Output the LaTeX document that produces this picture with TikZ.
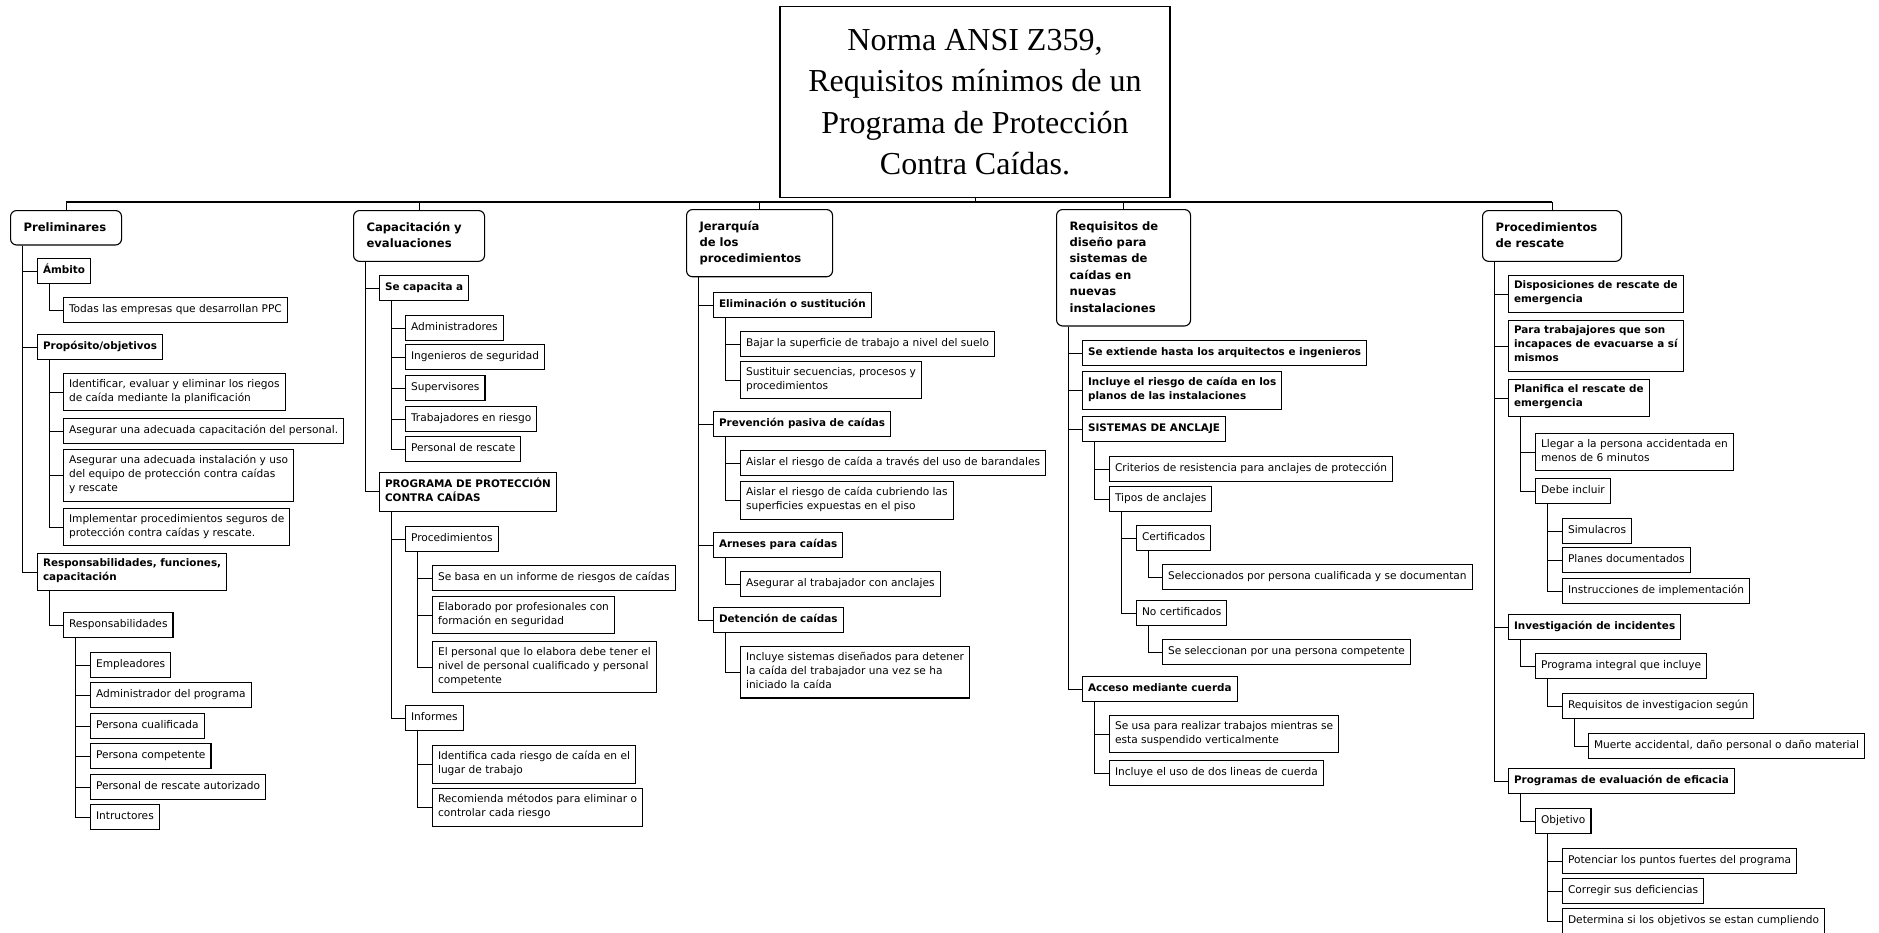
\documentclass[tikz,border=0pt]{standalone}
\usepackage{fontspec}
\setmainfont{DejaVu Sans}
\newfontfamily\titlefont{Liberation Serif}
\usetikzlibrary{calc}
\tikzset{leaf/.style = {draw, rectangle, anchor=north west, align=left,
line width=1.1pt, inner xsep=5.5pt, inner ysep=5.5pt,
font=\fontsize{10.6}{14}\selectfont,
execute at begin node=\strut, execute at end node=\strut}}
\tikzset{leafb/.style = {leaf, font=\bfseries\fontsize{10.4}{14}\selectfont}}
\tikzset{topbox/.style = {draw, rounded corners=6pt, anchor=north west, align=left,
line width=1.1pt, inner xsep=13pt, inner ysep=9pt,
font=\bfseries\fontsize{11.6}{16.4}\selectfont,
execute at begin node=\strut, execute at end node=\strut}}
\tikzset{titlebox/.style = {draw, rectangle, anchor=north, align=center,
line width=1.1pt, minimum width=390pt, minimum height=191pt,
font=\titlefont\fontsize{32}{41.5}\selectfont}}
\tikzset{link/.style = {line width=1pt}}
\tikzset{bus/.style = {line width=2.2pt}}

\begin{document}
\begin{tikzpicture}[x=1pt,y=-1pt]
                \useasboundingbox (0,0) rectangle (1879,932);
                \node[titlebox] (title) at (975,6) {Norma ANSI Z359,\\Requisitos mínimos de un\\Programa de Protección\\Contra Caídas.};

                % Preliminares
                \node[topbox, text width=85pt] (pre) at (10,210) {Preliminares};
                \node[leafb] (amb) at (37,258) {Ámbito};
                \node[leaf] (amb1) at (63,297) {Todas las empresas que desarrollan PPC};
                \node[leafb] (pro) at (37,334) {Propósito/objetivos};
                \node[leaf] (pro1) at (63,373) {Identificar, evaluar y eliminar los riegos\\de caída mediante la planificación};
                \node[leaf] (pro2) at (63,418) {Asegurar una adecuada capacitación del personal.};
                \node[leaf] (pro3) at (63,449) {Asegurar una adecuada instalación y uso\\del equipo de protección contra caídas\\y rescate};
                \node[leaf] (pro4) at (63,508) {Implementar procedimientos seguros de\\protección contra caídas y rescate.};
                \node[leafb] (rfc) at (37,553) {Responsabilidades, funciones,\\capacitación};
                \node[leaf] (rsp) at (63,612) {Responsabilidades};
                \node[leaf] (rsp1) at (90,652) {Empleadores};
                \node[leaf] (rsp2) at (90,682) {Administrador del programa};
                \node[leaf] (rsp3) at (90,713) {Persona cualificada};
                \node[leaf] (rsp4) at (90,743) {Persona competente};
                \node[leaf] (rsp5) at (90,774) {Personal de rescate autorizado};
                \node[leaf] (rsp6) at (90,804) {Intructores};

                % Capacitacion
                \node[topbox, text width=105pt] (cap) at (353,210) {Capacitación y\\evaluaciones};
                \node[leafb] (sca) at (379,275) {Se capacita a};
                \node[leaf] (sca1) at (405,315) {Administradores};
                \node[leaf] (sca2) at (405,344) {Ingenieros de seguridad};
                \node[leaf] (sca3) at (405,375) {Supervisores};
                \node[leaf] (sca4) at (405,406) {Trabajadores en riesgo};
                \node[leaf] (sca5) at (405,436) {Personal de rescate};
                \node[leafb] (ppc) at (379,472) {PROGRAMA DE PROTECCIÓN\\CONTRA CAÍDAS};
                \node[leaf] (prc) at (405,526) {Procedimientos};
                \node[leaf] (prc1) at (432,565) {Se basa en un informe de riesgos de caídas};
                \node[leaf] (prc2) at (432,596) {Elaborado por profesionales con\\formación en seguridad};
                \node[leaf] (prc3) at (432,641) {El personal que lo elabora debe tener el\\nivel de personal cualificado y personal\\competente};
                \node[leaf] (inf) at (405,705) {Informes};
                \node[leaf] (inf1) at (432,745) {Identifica cada riesgo de caída en el\\lugar de trabajo};
                \node[leaf] (inf2) at (432,788) {Recomienda métodos para eliminar o\\controlar cada riesgo};

                % Jerarquia
                \node[topbox, text width=120pt] (jer) at (686,209) {Jerarquía\\de los\\procedimientos};
                \node[leafb] (eli) at (713,292) {Eliminación o sustitución};
                \node[leaf] (eli1) at (740,331) {Bajar la superficie de trabajo a nivel del suelo};
                \node[leaf] (eli2) at (740,361) {Sustituir secuencias, procesos y\\procedimientos};
                \node[leafb] (pas) at (713,411) {Prevención pasiva de caídas};
                \node[leaf] (pas1) at (740,450) {Aislar el riesgo de caída a través del uso de barandales};
                \node[leaf] (pas2) at (740,481) {Aislar el riesgo de caída cubriendo las\\superficies expuestas en el piso};
                \node[leafb] (arn) at (713,532) {Arneses para caídas};
                \node[leaf] (arn1) at (740,571) {Asegurar al trabajador con anclajes};
                \node[leafb] (det) at (713,607) {Detención de caídas};
                \node[leaf] (det1) at (740,646) {Incluye sistemas diseñados para detener\\la caída del trabajador una vez se ha\\iniciado la caída};

                % Requisitos
                \node[topbox, text width=108pt] (req) at (1056,209) {Requisitos de\\diseño para\\sistemas de\\caídas en\\nuevas\\instalaciones};
                \node[leafb] (ext) at (1082,340) {Se extiende hasta los arquitectos e ingenieros};
                \node[leafb] (inc) at (1082,371) {Incluye el riesgo de caída en los\\planos de las instalaciones};
                \node[leafb] (anc) at (1082,416) {SISTEMAS DE ANCLAJE};
                \node[leaf] (anc1) at (1109,456) {Criterios de resistencia para anclajes de protección};
                \node[leaf] (tip) at (1109,486) {Tipos de anclajes};
                \node[leaf] (cer) at (1136,525) {Certificados};
                \node[leaf] (cer1) at (1162,564) {Seleccionados por persona cualificada y se documentan};
                \node[leaf] (nce) at (1136,600) {No certificados};
                \node[leaf] (nce1) at (1162,639) {Se seleccionan por una persona competente};
                \node[leafb] (acc) at (1082,676) {Acceso mediante cuerda};
                \node[leaf] (acc1) at (1109,715) {Se usa para realizar trabajos mientras se\\esta suspendido verticalmente};
                \node[leaf] (acc2) at (1109,760) {Incluye el uso de dos lineas de cuerda};

                % Rescate
                \node[topbox, text width=113pt] (res) at (1482,210) {Procedimientos\\de rescate};
                \node[leafb] (dis) at (1508,275) {Disposiciones de rescate de\\emergencia};
                \node[leafb] (par) at (1508,320) {Para trabajajores que son\\incapaces de evacuarse a sí\\mismos};
                \node[leafb] (pla) at (1508,379) {Planifica el rescate de\\emergencia};
                \node[leaf] (pla1) at (1535,433) {Llegar a la persona accidentada en\\menos de 6 minutos};
                \node[leaf] (deb) at (1535,478) {Debe incluir};
                \node[leaf] (deb1) at (1562,518) {Simulacros};
                \node[leaf] (deb2) at (1562,547) {Planes documentados};
                \node[leaf] (deb3) at (1562,578) {Instrucciones de implementación};
                \node[leafb] (inv) at (1508,614) {Investigación de incidentes};
                \node[leaf] (inv1) at (1535,653) {Programa integral que incluye};
                \node[leaf] (inv2) at (1562,693) {Requisitos de investigacion según};
                \node[leaf] (inv3) at (1588,733) {Muerte accidental, daño personal o daño material};
                \node[leafb] (eva) at (1508,768) {Programas de evaluación de eficacia};
                \node[leaf] (obj) at (1535,808) {Objetivo};
                \node[leaf] (obj1) at (1562,848) {Potenciar los puntos fuertes del programa};
                \node[leaf] (obj2) at (1562,878) {Corregir sus deficiencias};
                \node[leaf] (obj3) at (1562,908) {Determina si los objetivos se estan cumpliendo};

                % bus
                \coordinate (hub) at (975,202);
                \draw[bus] (pre.north |- hub) -- (res.north |- hub);
                \draw[link] (title.south) -- (hub);
                \draw[link] (pre.north) -- (pre.north |- hub);
                \draw[link] (cap.north) -- (cap.north |- hub);
                \draw[link] (jer.north) -- (jer.north |- hub);
                \draw[link] (req.north) -- (req.north |- hub);
                \draw[link] (res.north) -- (res.north |- hub);

                \draw[link] ([xshift=12pt]pre.south west) |- (amb.west);
                \draw[link] ([xshift=12pt]pre.south west) |- (pro.west);
                \draw[link] ([xshift=12pt]pre.south west) |- (rfc.west);
                \draw[link] ([xshift=12pt]amb.south west) |- (amb1.west);
                \draw[link] ([xshift=12pt]pro.south west) |- (pro1.west);
                \draw[link] ([xshift=12pt]pro.south west) |- (pro2.west);
                \draw[link] ([xshift=12pt]pro.south west) |- (pro3.west);
                \draw[link] ([xshift=12pt]pro.south west) |- (pro4.west);
                \draw[link] ([xshift=12pt]rfc.south west) |- (rsp.west);
                \draw[link] ([xshift=12pt]rsp.south west) |- (rsp1.west);
                \draw[link] ([xshift=12pt]rsp.south west) |- (rsp2.west);
                \draw[link] ([xshift=12pt]rsp.south west) |- (rsp3.west);
                \draw[link] ([xshift=12pt]rsp.south west) |- (rsp4.west);
                \draw[link] ([xshift=12pt]rsp.south west) |- (rsp5.west);
                \draw[link] ([xshift=12pt]rsp.south west) |- (rsp6.west);

                \draw[link] ([xshift=12pt]cap.south west) |- (sca.west);
                \draw[link] ([xshift=12pt]cap.south west) |- (ppc.west);
                \draw[link] ([xshift=12pt]sca.south west) |- (sca1.west);
                \draw[link] ([xshift=12pt]sca.south west) |- (sca2.west);
                \draw[link] ([xshift=12pt]sca.south west) |- (sca3.west);
                \draw[link] ([xshift=12pt]sca.south west) |- (sca4.west);
                \draw[link] ([xshift=12pt]sca.south west) |- (sca5.west);
                \draw[link] ([xshift=12pt]ppc.south west) |- (prc.west);
                \draw[link] ([xshift=12pt]ppc.south west) |- (inf.west);
                \draw[link] ([xshift=12pt]prc.south west) |- (prc1.west);
                \draw[link] ([xshift=12pt]prc.south west) |- (prc2.west);
                \draw[link] ([xshift=12pt]prc.south west) |- (prc3.west);
                \draw[link] ([xshift=12pt]inf.south west) |- (inf1.west);
                \draw[link] ([xshift=12pt]inf.south west) |- (inf2.west);

                \draw[link] ([xshift=12pt]jer.south west) |- (eli.west);
                \draw[link] ([xshift=12pt]jer.south west) |- (pas.west);
                \draw[link] ([xshift=12pt]jer.south west) |- (arn.west);
                \draw[link] ([xshift=12pt]jer.south west) |- (det.west);
                \draw[link] ([xshift=12pt]eli.south west) |- (eli1.west);
                \draw[link] ([xshift=12pt]eli.south west) |- (eli2.west);
                \draw[link] ([xshift=12pt]pas.south west) |- (pas1.west);
                \draw[link] ([xshift=12pt]pas.south west) |- (pas2.west);
                \draw[link] ([xshift=12pt]arn.south west) |- (arn1.west);
                \draw[link] ([xshift=12pt]det.south west) |- (det1.west);

                \draw[link] ([xshift=12pt]req.south west) |- (ext.west);
                \draw[link] ([xshift=12pt]req.south west) |- (inc.west);
                \draw[link] ([xshift=12pt]req.south west) |- (anc.west);
                \draw[link] ([xshift=12pt]req.south west) |- (acc.west);
                \draw[link] ([xshift=12pt]anc.south west) |- (anc1.west);
                \draw[link] ([xshift=12pt]anc.south west) |- (tip.west);
                \draw[link] ([xshift=12pt]tip.south west) |- (cer.west);
                \draw[link] ([xshift=12pt]tip.south west) |- (nce.west);
                \draw[link] ([xshift=12pt]cer.south west) |- (cer1.west);
                \draw[link] ([xshift=12pt]nce.south west) |- (nce1.west);
                \draw[link] ([xshift=12pt]acc.south west) |- (acc1.west);
                \draw[link] ([xshift=12pt]acc.south west) |- (acc2.west);

                \draw[link] ([xshift=12pt]res.south west) |- (dis.west);
                \draw[link] ([xshift=12pt]res.south west) |- (par.west);
                \draw[link] ([xshift=12pt]res.south west) |- (pla.west);
                \draw[link] ([xshift=12pt]res.south west) |- (inv.west);
                \draw[link] ([xshift=12pt]res.south west) |- (eva.west);
                \draw[link] ([xshift=12pt]pla.south west) |- (pla1.west);
                \draw[link] ([xshift=12pt]pla.south west) |- (deb.west);
                \draw[link] ([xshift=12pt]deb.south west) |- (deb1.west);
                \draw[link] ([xshift=12pt]deb.south west) |- (deb2.west);
                \draw[link] ([xshift=12pt]deb.south west) |- (deb3.west);
                \draw[link] ([xshift=12pt]inv.south west) |- (inv1.west);
                \draw[link] ([xshift=12pt]inv1.south west) |- (inv2.west);
                \draw[link] ([xshift=12pt]inv2.south west) |- (inv3.west);
                \draw[link] ([xshift=12pt]eva.south west) |- (obj.west);
                \draw[link] ([xshift=12pt]obj.south west) |- (obj1.west);
                \draw[link] ([xshift=12pt]obj.south west) |- (obj2.west);
                \draw[link] ([xshift=12pt]obj.south west) |- (obj3.west);
            \end{tikzpicture}
\end{document}
